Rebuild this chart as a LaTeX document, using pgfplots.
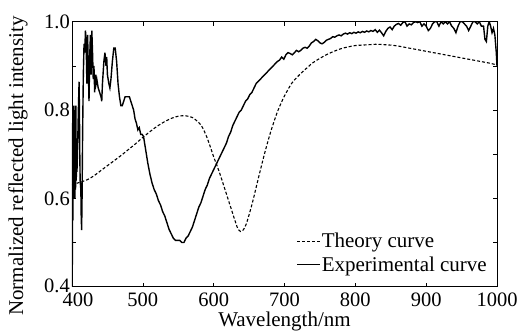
\documentclass[border=0pt]{standalone}
\usepackage{fontspec}
\setmainfont{Liberation Serif}
\usepackage{pgfplots}
\pgfplotsset{compat=1.18}
\begin{document}
\begin{tikzpicture}
\begin{axis}[
  scale only axis, width=425pt, height=265pt,
  xmin=400, xmax=1000, ymin=0.4, ymax=1.0,
  xtick={400,500,600,700,800,900,1000},
  xticklabels={\hspace{12pt}400,500,600,700,800,900,1000},
  ytick={0.4,0.5,0.6,0.7,0.8,0.9,1.0},
  yticklabels={\raisebox{3pt}{0.4},,0.6,,0.8,,1.0},
  tick align=inside, tick pos=both, major tick length=4pt,
  tick style={black, line width=0.6pt},
  axis line style={line width=0.8pt},
  /pgf/number format/assume math mode=true,
  ticklabel style={font=\fontsize{20.5}{20.5}\selectfont, inner sep=2pt},
  xticklabel style={yshift=-3.5pt},
  xlabel={Wavelength/nm},
  ylabel={Normalized reflected light intensity},
  label style={font=\fontsize{21}{21}\selectfont},
  xlabel style={at={(rel axis cs:0.5,-0.151)}, anchor=base},
  ylabel style={at={(rel axis cs:-0.127,0.455)}, anchor=center},
  legend style={at={(rel axis cs:1,0)}, anchor=south east, draw=none, fill=none,
    font=\fontsize{21}{21}\selectfont, xshift=-6pt, yshift=11pt, row sep=5pt,
    nodes={inner sep=1pt}},
  legend cell align=left,
  legend image code/.code={\draw[#1] (0pt,0pt) -- (23pt,0pt);},
]
\coordinate (sw) at (rel axis cs:0,0);
\coordinate (ne) at (rel axis cs:1,1);
\addplot[black, line width=1.1pt, dash pattern=on 3pt off 2pt, smooth] coordinates {
(400,0.630)(410,0.636)(420,0.641)(430,0.650)(440,0.662)(450,0.674)(460,0.686)(470,0.698)(480,0.711)(490,0.724)(500,0.738)(510,0.751)(520,0.763)(530,0.773)(540,0.781)(550,0.786)(560,0.787)(570,0.783)(580,0.770)(585,0.758)(590,0.740)(595,0.718)(600,0.694)(605,0.673)(610,0.650)(615,0.625)(620,0.600)(625,0.575)(630,0.550)(634,0.532)(638,0.525)(642,0.529)(646,0.542)(650,0.563)(655,0.592)(660,0.625)(665,0.658)(670,0.690)(675,0.720)(680,0.748)(685,0.773)(690,0.796)(695,0.815)(700,0.832)(710,0.860)(720,0.878)(730,0.893)(740,0.907)(750,0.917)(760,0.926)(770,0.933)(780,0.939)(790,0.943)(800,0.946)(810,0.947)(820,0.948)(830,0.949)(840,0.948)(850,0.947)(860,0.945)(870,0.942)(880,0.939)(890,0.936)(900,0.933)(910,0.930)(920,0.927)(930,0.924)(940,0.921)(950,0.918)(960,0.915)(970,0.912)(980,0.909)(990,0.906)(1000,0.902)
};
\addlegendentry{Theory curve}
\addplot[black, line width=1.4pt] coordinates {
(400,0.40)(400.3,0.72)(400.6,0.45)(401,0.78)(401.4,0.55)(401.8,0.80)(402.2,0.60)(402.6,0.81)(403,0.62)(403.5,0.79)(404,0.60)(404.5,0.80)(405,0.62)(405.5,0.81)(406,0.64)(406.5,0.70)(407,0.66)(408,0.72)(409,0.80)(410,0.864)(410.5,0.80)(411,0.70)(411.5,0.64)(412.5,0.62)(413,0.56)(413.6,0.528)(414.2,0.60)(415,0.75)(416,0.88)(417,0.95)(418,0.93)(419,0.98)(420,0.95)(421,0.86)(422,0.97)(423,0.90)(424,0.82)(425,0.92)(426,0.97)(427,0.88)(428,0.98)(429,0.93)(430,0.87)(431,0.90)(432,0.84)(433,0.88)(434,0.86)(435,0.87)(437,0.85)(439,0.84)(441,0.83)(442,0.82)(443,0.86)(445,0.91)(446.5,0.93)(448,0.90)(449,0.92)(450,0.88)(452,0.86)(453.5,0.85)(455,0.87)(457,0.91)(459,0.94)(461,0.94)(463,0.91)(465,0.86)(467,0.83)(469,0.81)(471,0.81)(473,0.82)(475,0.83)(477,0.83)(479,0.83)(481,0.83)(483,0.82)(485,0.81)(487,0.80)(489,0.78)(491,0.77)(493,0.755)(495,0.76)(497,0.745)(499,0.745)(501,0.74)(503,0.72)(505,0.70)(507,0.68)(510,0.655)(513,0.635)(516,0.62)(519,0.61)(522,0.595)(525,0.585)(528,0.57)(531,0.56)(534,0.545)(537,0.53)(540,0.52)(543,0.51)(546,0.505)(549,0.505)(552,0.505)(555,0.50)(558,0.50)(561,0.51)(564,0.515)(567,0.525)(570,0.535)(573,0.55)(576,0.565)(579,0.58)(582,0.59)(585,0.605)(588,0.62)(591,0.63)(594,0.645)(597,0.655)(600,0.665)(603,0.675)(606,0.685)(609,0.695)(612,0.705)(615,0.715)(618,0.725)(621,0.74)(624,0.75)(627,0.765)(630,0.775)(633,0.785)(636,0.795)(639,0.80)(642,0.81)(645,0.82)(648,0.825)(651,0.835)(654,0.84)(657,0.85)(660,0.86)(663,0.865)(666,0.87)(669,0.875)(672,0.88)(675,0.885)(678,0.89)(681,0.895)(684,0.90)(687,0.905)(690,0.91)(693,0.913)(696,0.92)(699,0.915)(702,0.925)(705,0.93)(708,0.928)(711,0.925)(714,0.93)(717,0.935)(720,0.932)(723,0.935)(726,0.94)(729,0.942)(732,0.94)(735,0.945)(738,0.952)(741,0.955)(744,0.96)(747,0.957)(750,0.952)(753,0.95)(756,0.953)(759,0.958)(762,0.96)(765,0.962)(768,0.966)(771,0.965)(774,0.968)(777,0.97)(780,0.968)(783,0.972)(786,0.974)(789,0.972)(792,0.975)(795,0.973)(798,0.976)(801,0.974)(804,0.977)(807,0.975)(810,0.978)(813,0.976)(816,0.979)(819,0.977)(822,0.98)(825,0.978)(828,0.982)(831,0.976)(834,0.981)(837,0.975)(840,0.968)(843,0.978)(846,0.985)(849,0.988)(852,0.982)(855,0.99)(858,0.994)(861,0.996)(864,0.992)(867,0.998)(870,1.0)(873,0.99)(876,0.995)(879,0.993)(882,0.998)(885,1.0)(888,0.998)(891,1.0)(894,0.99)(897,0.995)(900,0.99)(903,0.98)(906,0.985)(909,0.995)(912,1.0)(915,1.0)(918,0.99)(921,1.0)(924,0.995)(927,1.0)(930,0.995)(933,1.0)(936,0.99)(939,0.985)(942,0.975)(945,0.99)(948,1.0)(951,1.0)(954,0.995)(957,0.99)(960,0.98)(963,0.99)(966,1.0)(969,1.0)(972,0.995)(975,1.0)(978,0.99)(981,0.99)(983,0.96)(985,0.955)(987,0.99)(989,1.0)(991,0.99)(993,0.975)(995,0.985)(997,0.97)(998,0.95)(999,0.93)(1000,0.90)
};
\addlegendentry{Experimental curve}
\end{axis}
\pgfresetboundingbox
\useasboundingbox ([shift={(-72pt,-45pt)}]sw) rectangle ([shift={(24pt,21.7pt)}]ne);
\end{tikzpicture}
\end{document}
